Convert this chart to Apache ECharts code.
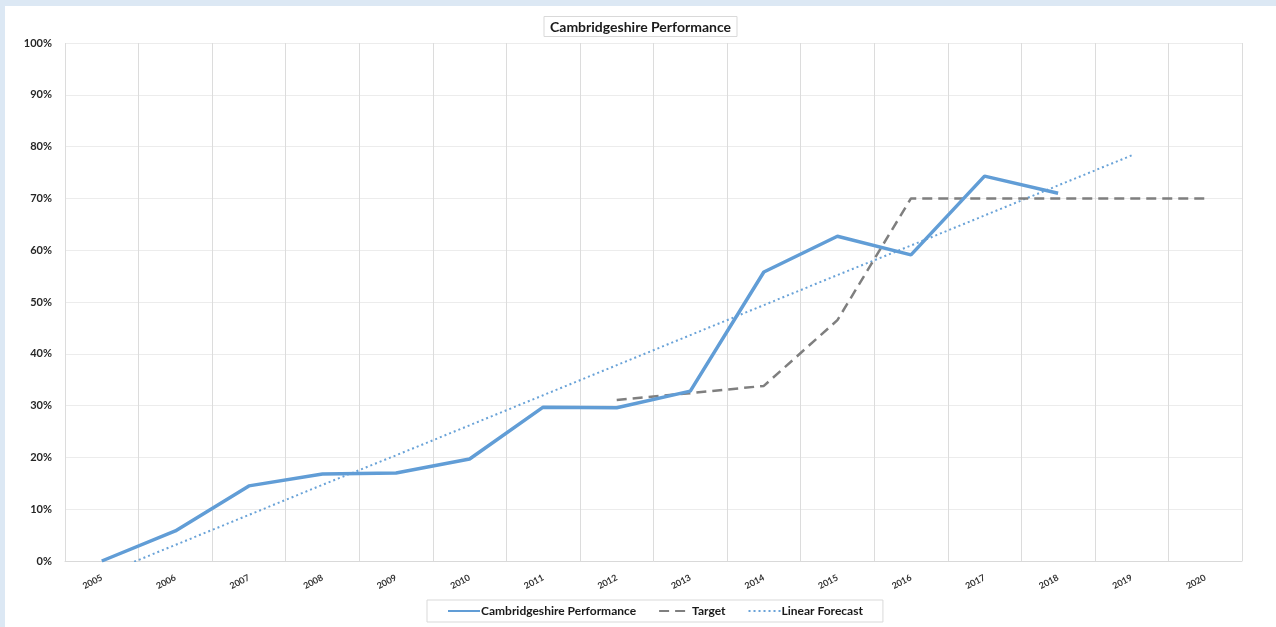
<!DOCTYPE html>
<html>
<head>
<meta charset="utf-8">
<script src="https://cdn.jsdelivr.net/npm/echarts@6/dist/echarts.min.js"></script>
<style>
  html, body { margin: 0; padding: 0; width: 1276px; height: 627px; background: #dce8f4; overflow: hidden; }
  #chart { position: absolute; left: 5px; top: 6px; width: 1271px; height: 621px; background: #ffffff; }
</style>
</head>
<body>
<div id="chart"></div>
<script>
const years = ['2005','2006','2007','2008','2009','2010','2011','2012','2013','2014','2015','2016','2017','2018','2019','2020'];
const performance = [0, 5.8, 14.5, 16.8, 17.0, 19.7, 29.7, 29.6, 32.8, 55.8, 62.7, 59.1, 74.3, 71.0, null, null];
const target = [null, null, null, null, null, null, null, 31.1, 32.4, 33.8, 46.5, 70, 70, 70, 70, 70];
const forecast = [-2.7, 3.1, 8.9, 14.7, 20.4, 26.2, 32.0, 37.8, 43.6, 49.4, 55.2, 60.9, 66.7, 72.5, 78.3, null];
const yTicks = [0, 10, 20, 30, 40, 50, 60, 70, 80, 90, 100];

const FONT = 'Lato, "Open Sans", "Noto Sans", sans-serif';
const chart = echarts.init(document.getElementById('chart'), null, { renderer: 'canvas' });
chart.setOption({
  animation: false,
  textStyle: { fontFamily: FONT },
  title: {
    text: 'Cambridgeshire Performance',
    left: 'center',
    top: 10,
    padding: [4, 6, 3, 6],
    borderColor: '#d9d9d9',
    borderWidth: 1,
    textStyle: { fontFamily: FONT, fontSize: 14, fontWeight: 'bold', color: '#1a1a1a' }
  },
  legend: {
    bottom: 5,
    left: 422,
    padding: [5, 20, 5, 20],
    borderColor: '#d9d9d9',
    borderWidth: 1,
    itemGap: 22,
    itemWidth: 32,
    itemHeight: 12,
    itemStyle: { opacity: 0 },
    textStyle: { fontFamily: FONT, fontSize: 12, fontWeight: 'bold', color: '#1a1a1a', padding: [0, 0, 0, -4] },
    data: ['Cambridgeshire Performance', 'Target', 'Linear Forecast']
  },
  grid: { left: 60, right: 34, top: 37, bottom: 66 },
  xAxis: {
    type: 'category',
    data: years,
    boundaryGap: true,
    axisLine: { show: true, lineStyle: { color: '#d9d9d9', width: 1 } },
    axisTick: { show: false },
    axisLabel: { rotate: 28, fontSize: 9, fontWeight: 'bold', color: '#333333', margin: 16, interval: 0, fontFamily: FONT },
    splitLine: { show: true, lineStyle: { color: '#dcdcdc', width: 1 } }
  },
  yAxis: {
    type: 'value',
    min: 0,
    max: 100,
    interval: 10,
    axisLine: { show: false },
    axisTick: { show: false },
    axisLabel: {
      formatter: function (v) { return yTicks.indexOf(v) >= 0 ? v + '%' : ''; },
      fontSize: 11, fontWeight: 'bold', color: '#262626', margin: 13, fontFamily: FONT
    },
    splitLine: { show: true, lineStyle: { color: '#ececec', width: 1 } }
  },
  series: [
    {
      name: 'Cambridgeshire Performance',
      type: 'line',
      data: performance,
      symbol: 'none',
      connectNulls: false,
      lineStyle: { color: '#619dd6', width: 3.5 },
      itemStyle: { color: '#619dd6' },
      z: 3
    },
    {
      name: 'Target',
      type: 'line',
      data: target,
      symbol: 'none',
      lineStyle: { color: '#7f7f7f', width: 2.5, type: [10, 6] },
      itemStyle: { color: '#7f7f7f' },
      z: 2
    },
    {
      name: 'Linear Forecast',
      type: 'line',
      data: forecast,
      symbol: 'none',
      clip: true,
      lineStyle: { color: '#6aa3d8', width: 2, type: [2, 3] },
      itemStyle: { color: '#6aa3d8' },
      z: 1
    }
  ]
});
</script>
</body>
</html>
